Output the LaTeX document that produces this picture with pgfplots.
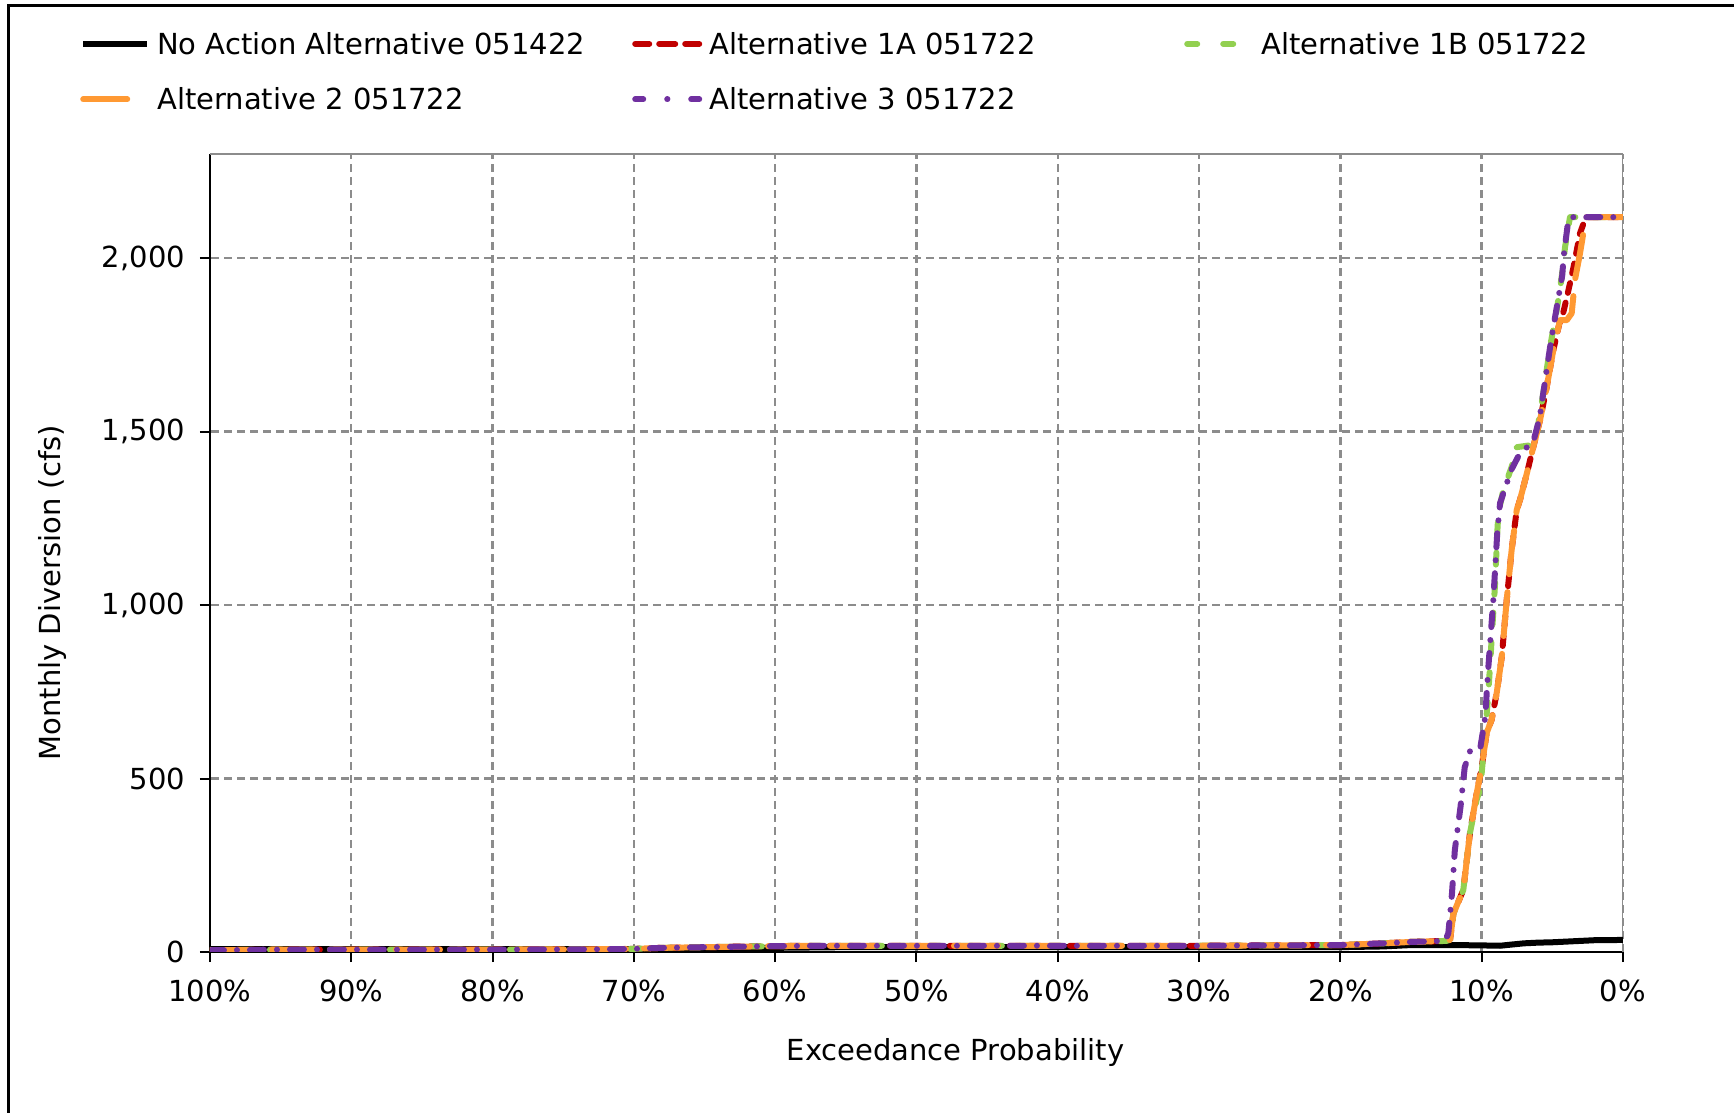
\documentclass[border=0pt]{standalone}
\usepackage{fontspec}
\setmainfont{DejaVu Sans}
\usepackage{pgfplots}
\pgfplotsset{compat=1.18}
\definecolor{cRed}{HTML}{C00000}
\definecolor{cGreen}{HTML}{92D050}
\definecolor{cOrange}{HTML}{FF9933}
\definecolor{cPurple}{HTML}{7030A0}
\definecolor{gridgray}{HTML}{8C8C8C}
\newcommand{\fs}{\fontsize{14.5}{17.4}\selectfont}
\newcommand{\lt}[1]{\hspace{3.5pt}\makebox[237.5pt][l]{\strut #1}}
\pgfplotsset{
  legRed/.style={legend image code/.code={%
    \path[draw=none, fill=none] (0pt,-4pt) rectangle (35pt,4pt);
    \draw[##1, solid] (1.5pt,0pt) -- (8.5pt,0pt) (13.5pt,0pt) -- (21.5pt,0pt) (26.5pt,0pt) -- (33.5pt,0pt);}},
  legGreen/.style={legend image code/.code={%
    \path[draw=none, fill=none] (0pt,-4pt) rectangle (35pt,4pt);
    \draw[##1, solid] (1.5pt,0pt) -- (6.5pt,0pt) (19.5pt,0pt) -- (24.5pt,0pt);}},
  legOrange/.style={legend image code/.code={%
    \path[draw=none, fill=none] (0pt,-4pt) rectangle (35pt,4pt);
    \draw[##1, solid] (1.5pt,0pt) -- (23.5pt,0pt);}},
  legPurple/.style={legend image code/.code={%
    \path[draw=none, fill=none] (0pt,-4pt) rectangle (35pt,4pt);
    \draw[##1, solid] (1.5pt,0pt) -- (5.5pt,0pt) (17.5pt,0pt) -- (17.6pt,0pt) (29.5pt,0pt) -- (33.5pt,0pt);}},
}
\begin{document}
\begin{tikzpicture}
\path[use as bounding box] (0,0) rectangle (867pt,556.5pt);
\draw[black, line width=1.5pt] (4pt,0) -- (4pt,553.5pt) -- (867pt,553.5pt);
\begin{axis}[
  at={(105pt,80.5pt)}, anchor=south west,
  scale only axis, width=706.5pt, height=399pt,
  x dir=reverse,
  xmin=0, xmax=100, ymin=0, ymax=2300,
  axis x line*=bottom, axis y line*=left,
  axis line style={black, line width=1pt, -},
  xtick={0,10,...,100},
  xticklabels={0\%,10\%,20\%,30\%,40\%,50\%,60\%,70\%,80\%,90\%,100\%},
  ytick={0,500,1000,1500,2000},
  yticklabels={0,500,{1,000},{1,500},{2,000}},
  tick align=outside, major tick length=5pt,
  tick style={black, line width=1pt},
  grid=major,
  grid style={gridgray, line width=1.2pt, dash pattern=on 4pt off 2.5pt},
  ticklabel style={font=\fs},
  xticklabel style={yshift=-5.5pt},
  yticklabel style={xshift=-4pt},
  xlabel={Exceedance Probability},
  ylabel={Monthly Diversion (cfs)},
  label style={font=\fs},
  xlabel style={at={(axis description cs:0.5276,-0.126)}, anchor=center},
  ylabel style={at={(axis description cs:-0.1112,0.45)}, anchor=center},
  legend columns=3,
  legend cell align=left,
  legend image code/.code={%
    \path[draw=none, fill=none] (0pt,-4pt) rectangle (35pt,4pt);
    \draw[#1] (1.5pt,0pt) -- (33.5pt,0pt);},
  legend style={draw=none, fill=none, font=\fs,
    at={(axis description cs:-0.0921,1.1556)}, anchor=north west,
    inner sep=0pt, column sep=0pt, row sep=14pt,
    nodes={inner sep=0pt}},
]
\draw[gridgray, line width=1.2pt] (rel axis cs:0,1) -- (rel axis cs:1,1) -- (rel axis cs:1,0);

% No Action
\addplot[black, line width=3pt, line join=round] coordinates {
(100,8) (90,8) (80,8) (70,8) (65,10) (60,12) (55,14) (50,14) (40,14) (30,14) (20,14) (17,16) (15,20) (12,20) (10,19) (8.7,18) (8,21) (7,25) (6,27) (5,28) (4,30) (3,32) (2,34) (1,34) (0,35)};
\addlegendentry{\lt{No Action Alternative 051422}}

% Alt 1A
\addplot[cRed, line width=3pt, line cap=round, line join=round, dash pattern=on 5pt off 5pt, legRed] coordinates {
(100,5) (95,7) (90,7) (80,7) (72,8) (70,9) (68,12) (60,17) (57,18) (50,18) (40,18) (30,18) (25,19) (20,20) (17,25) (15,29) (12.5,32) (12.24,35) (12.0,111) (11.3,179) (10.83,343) (10.35,458) (10.0,533) (9.65,631) (9.3,669) (8.94,746) (8.58,850) (8.23,1014) (7.88,1159) (7.52,1274) (7.29,1303) (6.8,1380) (6.35,1455) (5.87,1533) (5.4,1628) (4.93,1735) (4.5,1812) (4.3,1830) (3.9,1900) (3.5,1974) (3.04,2072) (2.7,2110) (2.6,2118) (0,2118)};
\addlegendentry{\lt{Alternative 1A 051722}}

% Alt 1B
\addplot[cGreen, line width=3pt, line cap=round, line join=round, dash pattern=on 6pt off 9pt, legGreen] coordinates {
(100,5) (95,7) (90,7) (80,7) (72,8) (70,9) (68,12) (60,17) (57,18) (50,18) (40,18) (30,18) (25,19) (20,20) (17,25) (15,29) (12.5,32) (12.24,35) (12.0,111) (11.3,179) (10.83,343) (10.35,440) (10.1,470) (9.75,631) (9.53,746) (9.3,899) (9.05,1063) (8.9,1207) (8.82,1265) (8.47,1331) (7.88,1398) (7.52,1455) (6.47,1461) (6.1,1496) (5.64,1611) (5.16,1744) (4.69,1850) (4.34,1945) (4.1,2032) (3.75,2118) (0,2118)};
\addlegendentry{\lt{Alternative 1B 051722}}

% Alt 2
\addplot[cOrange, line width=3pt, line cap=round, line join=round, dash pattern=on 22pt off 9pt, legOrange] coordinates {
(100,5) (95,7) (90,7) (80,7) (72,8) (70,9) (68,12) (60,17) (57,18) (50,18) (40,18) (30,18) (25,19) (20,20) (17,25) (15,29) (12.5,32) (12.24,35) (12.0,111) (11.3,179) (10.83,343) (10.35,458) (10.0,533) (9.65,631) (9.3,669) (8.94,746) (8.58,850) (8.23,1014) (7.88,1159) (7.52,1274) (7.29,1303) (6.8,1380) (6.35,1455) (5.87,1533) (5.4,1628) (4.93,1735) (4.46,1821) (3.98,1821) (3.63,1841) (3.4,1937) (3.04,2014) (2.69,2101) (2.57,2118) (0,2118)};
\addlegendentry{\lt{Alternative 2 051722}}

% Alt 3
\addplot[cPurple, line width=3pt, line cap=round, line join=round, dash pattern=on 7pt off 6.5pt on 0pt off 6.5pt, legPurple] coordinates {
(100,5) (95,7) (90,7) (80,7) (72,8) (70,9) (68,12) (60,17) (57,18) (50,18) (40,18) (30,18) (25,19) (20,20) (17,25) (15,29) (12.6,32) (12.36,54) (12.1,170) (11.9,294) (11.5,418) (11.2,533) (10.8,582) (10.1,588) (9.75,677) (9.53,820) (9.18,1014) (8.9,1207) (8.7,1294) (7.9,1390) (7.29,1438) (6.35,1470) (5.9,1540) (5.1,1760) (4.3,1950) (4.2,2005) (3.9,2100) (3.75,2118) (0,2118)};
\addlegendentry{\lt{Alternative 3 051722}}
\end{axis}
\end{tikzpicture}
\end{document}
